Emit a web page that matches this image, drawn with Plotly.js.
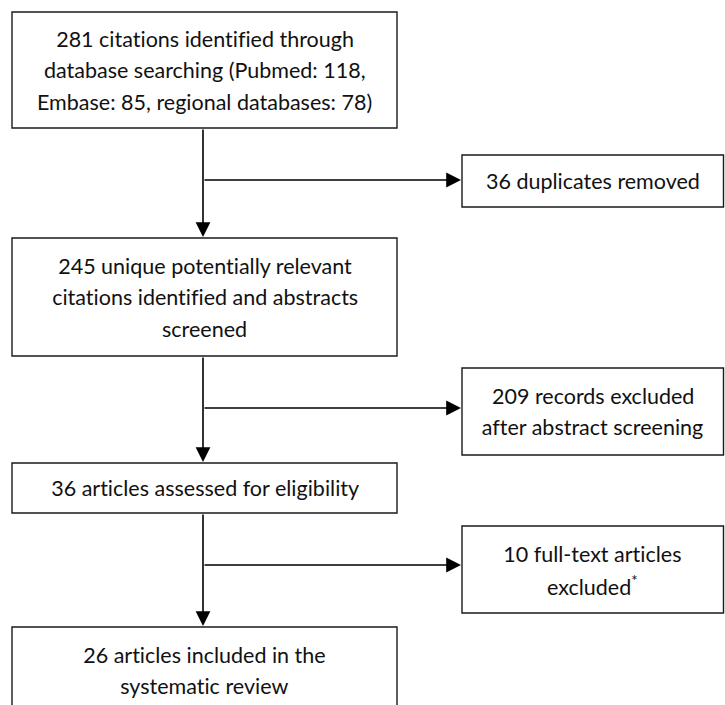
<!DOCTYPE html>
<html>
<head>
<meta charset="utf-8">
<script src="https://cdn.plot.ly/plotly-3.0.1.min.js"></script>
<style>
html,body{margin:0;padding:0;background:#fff;}
#chart{width:725px;height:705px;}
#chart text{font-variant-ligatures:none;font-feature-settings:"liga" 0,"clig" 0;}
</style>
</head>
<body>
<div id="chart"></div>
<script>
// ---- data ----
const sourceNames = ['Pubmed', 'Embase', 'regional databases'];
const sourceCounts = [118, 85, 78];
const totalIdentified = 281;
const uniqueCitations = 245;
const assessedArticles = 36;
const includedArticles = 26;
const duplicatesRemoved = 36;
const abstractExcluded = 209;
const fullTextExcluded = 10;

// ---- texts built from data (one entry per printed line) ----
const mainTexts = [
  [totalIdentified + ' citations identified through',
   'database searching (' + sourceNames[0] + ': ' + sourceCounts[0] + ',',
   sourceNames[1] + ': ' + sourceCounts[1] + ', ' + sourceNames[2] + ': ' + sourceCounts[2] + ')'],
  [uniqueCitations + ' unique potentially relevant', 'citations identified and abstracts', 'screened'],
  [assessedArticles + ' articles assessed for eligibility'],
  [includedArticles + ' articles included in the', 'systematic review']
];
const sideTexts = [
  [duplicatesRemoved + ' duplicates removed'],
  [abstractExcluded + ' records excluded', 'after abstract screening'],
  [fullTextExcluded + ' full-text articles', 'excluded<sup>*</sup>']
];

// ---- geometry (layout only) ----
const geo = {
  spineX: 203,
  mainX: [12, 397],
  sideX: [462, 723.5],
  main: [[12, 128], [238, 356], [463, 513], [627, 714]],
  side: [[155, 207], [368, 455], [526, 613]],
  branchY: [180, 408, 565],
  lineGap: 31.5
};

const lineColor = '#1a1a1a';
const font = {family: 'Lato, "Open Sans", sans-serif', size: 21.5, color: '#111'};

const shapes = [];
const annotations = [];

function box(x0, x1, y0, y1, lines) {
  shapes.push({type: 'rect', xref: 'x', yref: 'y', x0: x0, x1: x1, y0: y0, y1: y1,
    line: {color: lineColor, width: 1.4}, fillcolor: 'rgba(0,0,0,0)'});
  const cy = (y0 + y1) / 2;
  const n = lines.length;
  lines.forEach((t, i) => {
    annotations.push({xref: 'x', yref: 'y', x: (x0 + x1) / 2,
      y: cy + (i - (n - 1) / 2) * geo.lineGap,
      text: t, showarrow: false, font: font, align: 'center',
      xanchor: 'center', yanchor: 'middle'});
  });
}
function arrow(x0, y0, x1, y1) {
  annotations.push({xref: 'x', yref: 'y', axref: 'x', ayref: 'y',
    x: x1, y: y1, ax: x0, ay: y0, text: '', showarrow: true,
    arrowhead: 2, arrowsize: 1.85, arrowwidth: 1.6, arrowcolor: '#000', standoff: 0, startstandoff: 0});
}

geo.main.forEach((r, i) => box(geo.mainX[0], geo.mainX[1], r[0], r[1], mainTexts[i]));
geo.side.forEach((r, i) => box(geo.sideX[0], geo.sideX[1], r[0], r[1], sideTexts[i]));
for (let i = 0; i < geo.main.length - 1; i++) {
  arrow(geo.spineX, geo.main[i][1], geo.spineX, geo.main[i + 1][0] - 1);
  arrow(geo.spineX, geo.branchY[i], geo.sideX[0] - 1, geo.branchY[i]);
}

const layout = {
  width: 725, height: 705,
  margin: {l: 0, r: 0, t: 0, b: 0},
  paper_bgcolor: '#fff', plot_bgcolor: '#fff',
  xaxis: {range: [0, 725], visible: false, fixedrange: true},
  yaxis: {range: [705, 0], visible: false, fixedrange: true},
  shapes: shapes,
  annotations: annotations,
  showlegend: false
};

Plotly.newPlot('chart', [], layout, {displayModeBar: false, staticPlot: true});
</script>
</body>
</html>
